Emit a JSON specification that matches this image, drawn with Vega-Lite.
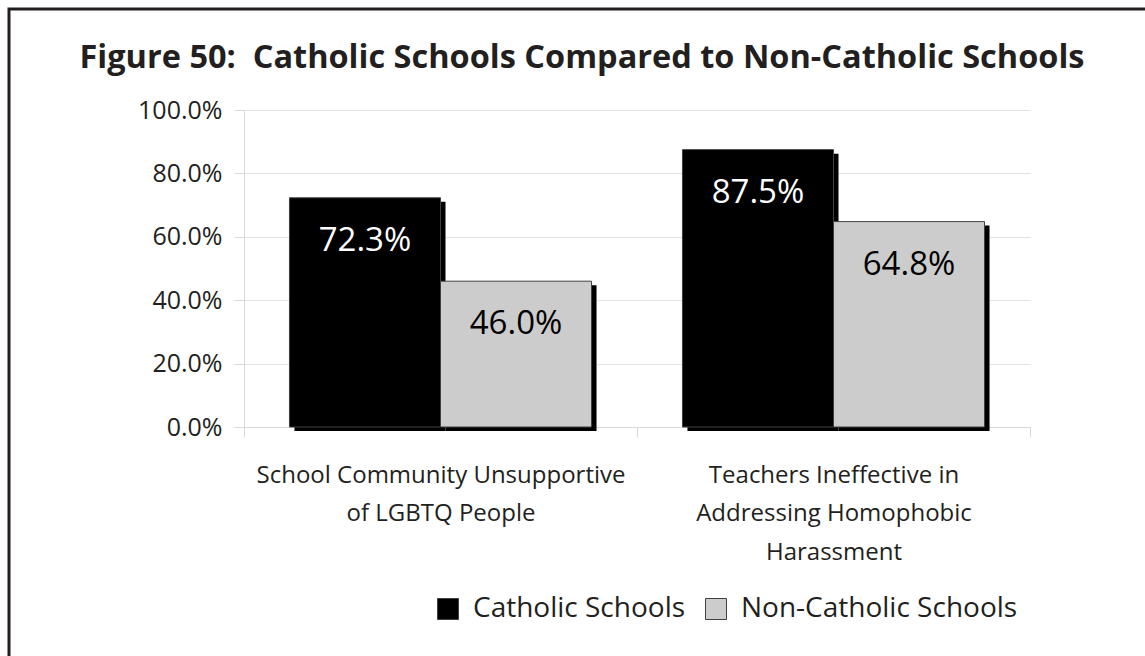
{
  "$schema": "https://vega.github.io/schema/vega-lite/v6.json",
  "width": 786,
  "height": 317,
  "autosize": "none",
  "padding": {"left": 244, "top": 110, "right": 115, "bottom": 229},
  "background": "white",
  "config": {"view": {"stroke": null}, "font": "Open Sans", "legend": {"strokeWidth": 3}},
  "title": {
    "text": "Figure 50:\u00a0 Catholic Schools Compared to Non-Catholic Schools",
    "font": "Open Sans",
    "fontSize": 32.5,
    "fontWeight": "bold",
    "color": "#231f20",
    "anchor": "middle",
    "frame": "group",
    "dx": -55,
    "offset": -93,
    "baseline": "alphabetic"
  },
  "data": {
    "values": [
      {"category": "School Community Unsupportive|of LGBTQ People", "group": "Catholic Schools", "value": 0.723},
      {"category": "School Community Unsupportive|of LGBTQ People", "group": "Non-Catholic Schools", "value": 0.46},
      {"category": "Teachers Ineffective in|Addressing Homophobic|Harassment", "group": "Catholic Schools", "value": 0.875},
      {"category": "Teachers Ineffective in|Addressing Homophobic|Harassment", "group": "Non-Catholic Schools", "value": 0.648}
    ]
  },
  "encoding": {
    "x": {
      "field": "category",
      "type": "nominal",
      "sort": null,
      "scale": {"paddingInner": 0, "paddingOuter": 0},
      "axis": {
        "title": null,
        "labelAngle": 0,
        "labelFontSize": 24,
        "labelColor": "#231f20",
        "labelExpr": "split(datum.label, '|')",
        "labelLineHeight": 38.5,
        "labelBaseline": "top",
        "labelLimit": 600,
        "tickBand": "extent",
        "tickSize": 10,
        "tickColor": "#d9d9d9",
        "domainColor": "#d9d9d9",
        "labelPadding": 26
      }
    },
    "y": {
      "field": "value",
      "type": "quantitative",
      "scale": {"domain": [0, 1]},
      "axis": {
        "title": null,
        "values": [0, 0.2, 0.4, 0.6, 0.8, 1],
        "format": ".1%",
        "labelFontSize": 25,
        "labelColor": "#231f20",
        "tickSize": 10,
        "tickColor": "#d9d9d9",
        "domainColor": "#d9d9d9",
        "gridColor": "#e3e3e3",
        "labelPadding": 12
      }
    }
  },
  "layer": [
    {
      "mark": {"type": "bar", "fill": "#000000", "yOffset": 4, "y2Offset": -4},
      "encoding": {
        "xOffset": {
          "field": "group",
          "sort": null,
          "scale": {"paddingInner": 0, "paddingOuter": 0.301, "align": 0.555}
        }
      }
    },
    {
      "layer": [
        {
          "mark": {"type": "bar", "stroke": "#404040", "strokeWidth": 1},
          "encoding": {
            "color": {
              "field": "group",
              "type": "nominal",
              "sort": null,
              "scale": {"domain": ["Catholic Schools", "Non-Catholic Schools"], "range": ["#000000", "#cccccc"]},
              "legend": {
                "orient": "none",
                "legendX": -235,
                "legendY": -101,
                "direction": "horizontal",
                "title": " ",
                "titleFontSize": 1,
                "titlePadding": 160,
                "padding": 425,
                "strokeColor": "#231f20",
                "symbolType": "square",
                "symbolSize": 441,
                "symbolStrokeColor": "#404040",
                "symbolStrokeWidth": 1,
                "symbolOpacity": 1,
                "labelFontSize": 28,
                "labelColor": "#231f20",
                "labelOffset": 11,
                "labelLimit": 500,
                "columnPadding": 16
              }
            }
          }
        },
        {
          "mark": {"type": "text", "baseline": "alphabetic", "dy": 53, "fontSize": 33},
          "encoding": {
            "text": {"field": "value", "type": "quantitative", "format": ".1%"},
            "fill": {
              "condition": {"test": "datum.group === 'Catholic Schools'", "value": "#ffffff"},
              "value": "#000000"
            }
          }
        }
      ],
      "encoding": {
        "xOffset": {
          "field": "group",
          "sort": null,
          "scale": {"paddingInner": 0, "paddingOuter": 0.301}
        }
      }
    }
  ],
  "resolve": {"scale": {"xOffset": "independent"}}
}
